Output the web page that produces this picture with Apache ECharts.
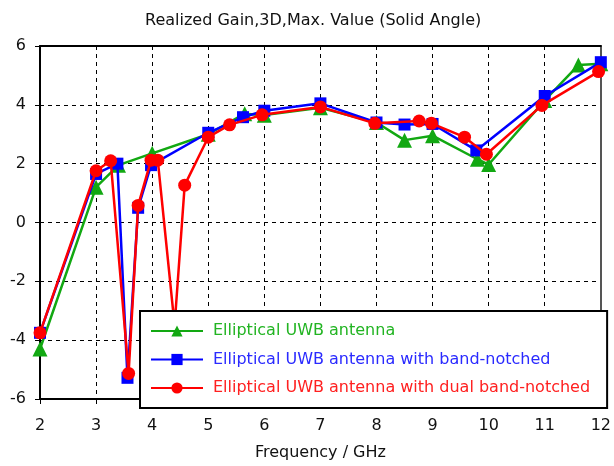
<!DOCTYPE html>
<html>
<head>
<meta charset="utf-8">
<script src="https://cdn.jsdelivr.net/npm/echarts@6/dist/echarts.min.js"></script>
<style>html,body{margin:0;padding:0;background:#fff;}#c{width:614px;height:466px;}</style>
</head>
<body>
<div id="c"></div>
<script>
const titleText = 'Realized Gain,3D,Max. Value (Solid Angle)';
const xName = 'Frequency / GHz';
const seriesNames = ['Elliptical UWB antenna', 'Elliptical UWB antenna with band-notched', 'Elliptical UWB antenna with dual band-notched'];

const freqA = [2, 3, 3.4, 4, 5, 5.65, 6, 7, 8, 8.5, 9, 9.8, 10, 11, 11.6, 12];
const gainA = [-4.3, 1.2, 1.95, 2.35, 3.0, 3.7, 3.65, 3.9, 3.4, 2.8, 2.95, 2.15, 1.97, 4.15, 5.35, 5.4];

const freqB = [2, 3, 3.38, 3.56, 3.75, 3.98, 5, 5.62, 6, 7, 8, 8.5, 9, 9.78, 11, 12];
const gainB = [-3.75, 1.65, 2.0, -5.28, 0.5, 1.95, 3.05, 3.58, 3.8, 4.05, 3.4, 3.33, 3.35, 2.45, 4.3, 5.45];

const freqC = [2, 3, 3.26, 3.58, 3.75, 3.98, 4.1, 4.4, 4.58, 5, 5.38, 5.96, 7, 7.97, 8.76, 8.98, 9.57, 9.96, 10.95, 11.96];
const gainC = [-3.75, 1.76, 2.1, -5.13, 0.58, 2.12, 2.12, -3.5, 1.27, 2.9, 3.32, 3.66, 3.93, 3.37, 3.45, 3.37, 2.9, 2.32, 3.98, 5.13];

const xTicks = [2, 3, 4, 5, 6, 7, 8, 9, 10, 11, 12];
const yTicks = [-6, -4, -2, 0, 2, 4, 6];

const colors = ['#12a812', '#0000ff', '#ff0000'];
const legendTextColors = ['#22b422', '#2a2aff', '#ff2020'];
const symbols = ['triangle', 'rect', 'circle'];
const symbolSizes = [15, 12, 13];

function pairs(xs, ys) { return xs.map((x, i) => [x, ys[i]]); }
const datasets = [pairs(freqA, gainA), pairs(freqB, gainB), pairs(freqC, gainC)];

const font = 'DejaVu Sans, Verdana, sans-serif';
const chart = echarts.init(document.getElementById('c'), null, {renderer: 'canvas'});
chart.setOption({
  animation: false,
  backgroundColor: '#fff',
  title: {
    text: titleText, left: 145, top: 13, padding: 0,
    textStyle: {fontFamily: font, fontSize: 16, fontWeight: 'normal', color: '#111'}
  },
  grid: {left: 40, right: 9, top: 46, bottom: 63, containLabel: false},
  legend: {
    orient: 'vertical', left: 140, top: 311, z: 20,
    padding: [12, 17, 12, 10], itemGap: 12.5, itemWidth: 52, itemHeight: 14,
    backgroundColor: '#fff', borderColor: '#000', borderWidth: 2,
    textStyle: {fontFamily: font, fontSize: 16, padding: [0, 0, 0, 5]},
    data: seriesNames.map((n, i) => ({name: n, textStyle: {color: legendTextColors[i]}}))
  },
  xAxis: [{
    type: 'value', min: 2, max: 12, interval: 1,
    name: xName, nameLocation: 'middle', nameGap: 46,
    nameTextStyle: {fontFamily: font, fontSize: 16, color: '#111'},
    axisLine: {show: true, onZero: false, lineStyle: {color: '#000', width: 2}},
    axisTick: {show: true, length: 5, lineStyle: {color: '#000'}},
    axisLabel: {fontFamily: font, fontSize: 16, color: '#111', margin: 19,
      formatter: v => xTicks.includes(v) ? String(v) : ''},
    splitLine: {show: true, lineStyle: {color: '#000', width: 1, type: [4, 4]}}
  }, {
    type: 'value', position: 'top', min: 2, max: 12,
    axisLine: {show: true, onZero: false, lineStyle: {color: '#000', width: 2}},
    axisTick: {show: false}, axisLabel: {show: false}, splitLine: {show: false}
  }],
  yAxis: [{
    type: 'value', min: -6, max: 6, interval: 2,
    axisLine: {show: true, onZero: false, lineStyle: {color: '#000', width: 2}},
    axisTick: {show: true, length: 5, lineStyle: {color: '#000'}},
    axisLabel: {fontFamily: font, fontSize: 16, color: '#111', margin: 14,
      formatter: v => yTicks.includes(v) ? String(v) : ''},
    splitLine: {show: true, lineStyle: {color: '#000', width: 1, type: [4, 4]}}
  }, {
    type: 'value', position: 'right', min: -6, max: 6,
    axisLine: {show: true, onZero: false, lineStyle: {color: '#555', width: 2}},
    axisTick: {show: false}, axisLabel: {show: false}, splitLine: {show: false}
  }],
  series: seriesNames.map((n, i) => ({
    name: n, type: 'line', data: datasets[i],
    xAxisIndex: 0, yAxisIndex: 0,
    symbol: symbols[i], symbolSize: symbolSizes[i],
    showAllSymbol: true,
    lineStyle: {color: colors[i], width: 2.5},
    itemStyle: {color: colors[i]},
    z: 2 + i
  }))
});
</script>
</body>
</html>
